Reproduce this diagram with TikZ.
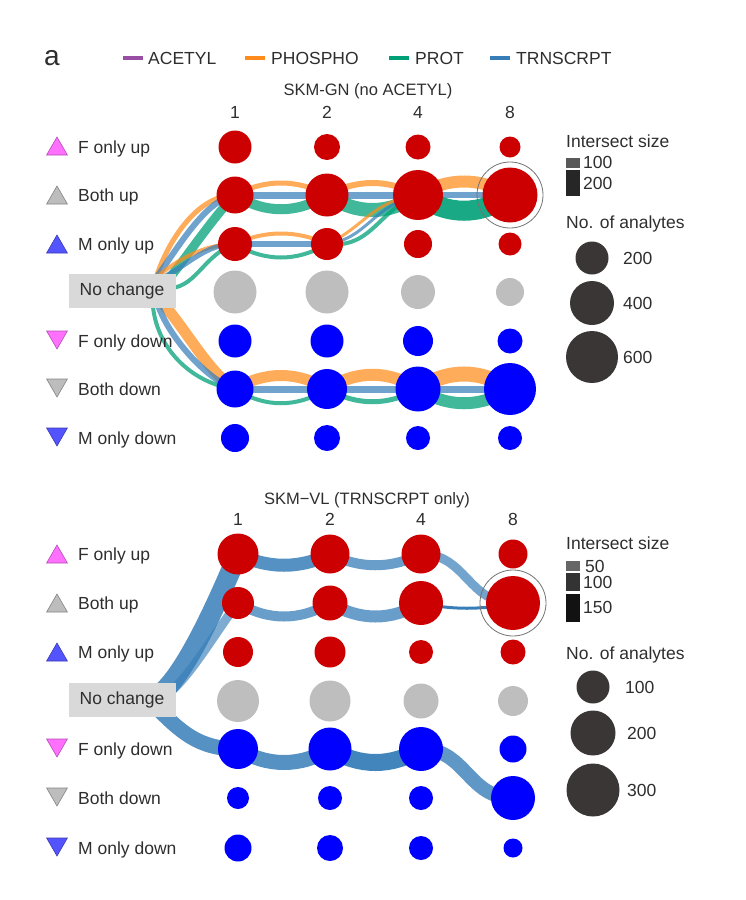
\documentclass[tikz,border=0pt]{standalone}
\usepackage{fontspec}
\setmainfont{Liberation Sans}
\usetikzlibrary{shapes.geometric,backgrounds,calc}

\definecolor{dotred}{HTML}{CC0000}
\definecolor{dotblue}{HTML}{0000FF}
\definecolor{dotgrey}{HTML}{BEBEBE}
\definecolor{acetcol}{HTML}{984EA3}
\definecolor{phoscol}{HTML}{FF8C1A}
\definecolor{protcol}{HTML}{00A077}
\definecolor{trncol}{HTML}{377EB8}
\definecolor{txt}{HTML}{2E2E2E}
\definecolor{fmark}{HTML}{FF70FF}
\definecolor{bmark}{HTML}{BDBDBD}
\definecolor{mmark}{HTML}{5454FF}
\definecolor{legdot}{HTML}{3B3636}

\newcommand{\lbl}{\fontsize{17.5}{20}\selectfont}

\tikzset{
  reddot/.style={circle, inner sep=0pt, fill=dotred, minimum size=#1pt},
  bluedot/.style={circle, inner sep=0pt, fill=dotblue, minimum size=#1pt},
  greydot/.style={circle, inner sep=0pt, fill=dotgrey, minimum size=#1pt},
  keydot/.style={circle, inner sep=0pt, fill=legdot, minimum size=#1pt},
  ring/.style={circle, inner sep=0pt, draw=black!55, line width=0.8pt, minimum size=66pt},
  lab/.style={anchor=west, inner sep=0pt, text=txt, font=\lbl, text height=12.5pt, text depth=0pt},
  head/.style={inner sep=0pt, text=txt, font=\lbl, text height=12.5pt, text depth=0pt},
  upmark/.style={regular polygon, regular polygon sides=3, inner sep=0pt, minimum size=24pt,
    fill=#1, draw=#1!70!black, line width=0.6pt},
  downmark/.style={upmark=#1, shape border rotate=180},
  nobox/.style={fill=black!15, text=txt, font=\lbl, minimum width=107pt, minimum height=34pt, inner sep=0pt},
  legline/.style={line width=4pt},
  phosflow/.style={draw=phoscol, opacity=.72, line width=#1pt},
  protflow/.style={draw=protcol, opacity=.75, line width=#1pt},
  trnflow/.style={draw=trncol, opacity=.72, line width=#1pt},
  vflow/.style={draw=trncol, opacity=.85, line width=#1pt},
}

\begin{document}
\begin{tikzpicture}[x=1pt,y=1pt]
  \useasboundingbox (0,0) rectangle (746,-900);

  % top key
  \node[anchor=base west, inner sep=0pt, text=txt, font=\fontsize{28}{30}\selectfont] (tag) at (44,-65) {a};
  \node[lab] (lacet) at (148,-58) {ACETYL};
  \node[lab] (lphos) at (271,-58) {PHOSPHO};
  \node[lab] (lprot) at (415,-58) {PROT};
  \node[lab] (ltrn) at (516,-58) {TRNSCRPT};
  \draw[legline, acetcol] ([xshift=-25pt]lacet.west) -- ([xshift=-5pt]lacet.west);
  \draw[legline, phoscol] ([xshift=-26pt]lphos.west) -- ([xshift=-6pt]lphos.west);
  \draw[legline, protcol] ([xshift=-26pt]lprot.west) -- ([xshift=-6pt]lprot.west);
  \draw[legline, trncol] ([xshift=-26pt]ltrn.west) -- ([xshift=-6pt]ltrn.west);

  % SKM-GN panel
  \node[head, font=\fontsize{16.5}{19}\selectfont] (gtitle) at (368,-89) {SKM-GN (no ACETYL)};
  \node[head] (gc1) at (235,-112) {1};
  \node[head] (gc2) at (327,-112) {2};
  \node[head] (gc4) at (418,-112) {4};
  \node[head] (gc8) at (510,-112) {8};

  \node[upmark=fmark] (gtfu) at (57,-149) {};
  \node[upmark=bmark] (gtbu) at (57,-198) {};
  \node[upmark=mmark] (gtmu) at (57,-247) {};
  \node[downmark=fmark] (gtfd) at (57,-337) {};
  \node[downmark=bmark] (gtbd) at (57,-385) {};
  \node[downmark=mmark] (gtmd) at (57,-434) {};
  \node[lab] (glfu) at (78,-147) {F only up};
  \node[lab] (glbu) at (78,-195) {Both up};
  \node[lab] (glmu) at (78,-244) {M only up};
  \node[lab] (glfd) at (78,-341) {F only down};
  \node[lab] (glbd) at (78,-389) {Both down};
  \node[lab] (glmd) at (78,-438) {M only down};

  \node[reddot=33] (gfu1) at (235,-147) {};
  \node[reddot=26] (gfu2) at (327,-147) {};
  \node[reddot=25] (gfu4) at (418,-147) {};
  \node[reddot=21] (gfu8) at (510,-147) {};
  \node[reddot=37] (gbu1) at (235,-195) {};
  \node[reddot=43] (gbu2) at (327,-195) {};
  \node[reddot=50] (gbu4) at (418,-195) {};
  \node[reddot=55] (gbu8) at (510,-195) {};
  \node[ring] (gring) at (gbu8) {};
  \node[reddot=34] (gmu1) at (235,-244) {};
  \node[reddot=32] (gmu2) at (327,-244) {};
  \node[reddot=28] (gmu4) at (418,-244) {};
  \node[reddot=23] (gmu8) at (510,-244) {};
  \node[greydot=43] (gnc1) at (235,-292) {};
  \node[greydot=43] (gnc2) at (327,-292) {};
  \node[greydot=34] (gnc4) at (418,-292) {};
  \node[greydot=28] (gnc8) at (510,-292) {};
  \node[bluedot=33] (gfd1) at (235,-341) {};
  \node[bluedot=33] (gfd2) at (327,-341) {};
  \node[bluedot=30] (gfd4) at (418,-341) {};
  \node[bluedot=25] (gfd8) at (510,-341) {};
  \node[bluedot=37] (gbd1) at (235,-389) {};
  \node[bluedot=40] (gbd2) at (327,-389) {};
  \node[bluedot=45] (gbd4) at (418,-389) {};
  \node[bluedot=52] (gbd8) at (510,-389) {};
  \node[bluedot=28] (gmd1) at (235,-438) {};
  \node[bluedot=26] (gmd2) at (327,-438) {};
  \node[bluedot=24] (gmd4) at (418,-438) {};
  \node[bluedot=24] (gmd8) at (510,-438) {};

  \node[nobox] (gnobox) at (122,-291) {No change};
  \coordinate (gsu) at (156,-278);
  \coordinate (gsd) at (158,-305);

  \begin{scope}[on background layer]
    % from no change
    \draw[phosflow=5] (gsu) .. controls +(10,32) and +(-40,0) .. (gbu1.center);
    \draw[trnflow=6] (gsu) .. controls +(22,30) and +(-30,-5) .. (gbu1.center);
    \draw[protflow=9] ($(gsu)+(12,-2)$) .. controls +(20,25) and +(-20,-20) .. (gbu1.center);
    \draw[phosflow=4] (gsu) .. controls +(20,18) and +(-30,0) .. (gmu1.center);
    \draw[trnflow=5] ($(gsu)+(6,0)$) .. controls +(25,12) and +(-30,0) .. (gmu1.center);
    \draw[protflow=4] ($(gsu)+(16,-10)$) .. controls +(25,3) and +(-30,-10) .. (gmu1.center);
    \draw[phosflow=11] ($(gsd)+(6,0)$) .. controls +(20,-22) and +(-25,15) .. (gbd1.center);
    \draw[trnflow=6] (gsd) .. controls +(10,-30) and +(-30,10) .. (gbd1.center);
    \draw[protflow=4] ($(gsd)+(-5,-2)$) .. controls +(5,-45) and +(-40,5) .. (gbd1.center);
    % both up
    \draw[phosflow=5] (gbu1.center) .. controls +(30,16) and +(-30,16) .. (gbu2.center);
    \draw[trnflow=7] (gbu1.center) -- (gbu2.center);
    \draw[protflow=10] (gbu1.center) .. controls +(30,-19) and +(-30,-19) .. (gbu2.center);
    \draw[phosflow=6] (gbu2.center) .. controls +(30,16) and +(-30,16) .. (gbu4.center);
    \draw[trnflow=7] (gbu2.center) -- (gbu4.center);
    \draw[protflow=14] (gbu2.center) .. controls +(30,-20) and +(-30,-20) .. (gbu4.center);
    \draw[phosflow=12] (gbu4.center) .. controls +(30,18) and +(-30,18) .. (gbu8.center);
    \draw[trnflow=6] (gbu4.center) -- (gbu8.center);
    \draw[protflow=20, opacity=.9] (gbu4.center) .. controls +(30,-21) and +(-30,-21) .. (gbu8.center);
    % m only up
    \draw[phosflow=4] (gmu1.center) .. controls +(30,14) and +(-30,14) .. (gmu2.center);
    \draw[trnflow=6] (gmu1.center) -- (gmu2.center);
    \draw[protflow=4] (gmu1.center) .. controls +(30,-18) and +(-30,-18) .. (gmu2.center);
    \draw[phosflow=3] (gmu2.center) .. controls +(35,15) and +(-45,-5) .. (gbu4.center);
    \draw[trnflow=3] (gmu2.center) .. controls +(40,5) and +(-45,-10) .. (gbu4.center);
    \draw[protflow=4] (gmu2.center) .. controls +(45,-5) and +(-40,-15) .. (gbu4.center);
    % both down
    \draw[phosflow=11] (gbd1.center) .. controls +(30,18) and +(-30,18) .. (gbd2.center);
    \draw[trnflow=7] (gbd1.center) -- (gbd2.center);
    \draw[protflow=4] (gbd1.center) .. controls +(30,-19) and +(-30,-19) .. (gbd2.center);
    \draw[phosflow=12] (gbd2.center) .. controls +(30,19) and +(-30,19) .. (gbd4.center);
    \draw[trnflow=7] (gbd2.center) -- (gbd4.center);
    \draw[protflow=5] (gbd2.center) .. controls +(30,-17) and +(-30,-17) .. (gbd4.center);
    \draw[phosflow=15] (gbd4.center) .. controls +(30,20) and +(-30,20) .. (gbd8.center);
    \draw[trnflow=7] (gbd4.center) -- (gbd8.center);
    \draw[protflow=12] (gbd4.center) .. controls +(30,-19) and +(-30,-19) .. (gbd8.center);
  \end{scope}

  % SKM-GN key
  \node[lab] (gkint) at (566,-141) {Intersect size};
  \fill[black!65] (566,-158) rectangle (580,-168);
  \fill[black!85] (566,-170) rectangle (580,-196);
  \node[lab] (gk100) at (583,-162) {100};
  \node[lab] (gk200) at (583,-183) {200};
  \node[lab] (gkno) at (566,-222) {No. of analytes};
  \node[keydot=33] (gkd200) at (592,-258) {};
  \node[keydot=44] (gkd400) at (592,-303) {};
  \node[keydot=52] (gkd600) at (592,-357) {};
  \node[lab] (gkl200) at (623,-258) {200};
  \node[lab] (gkl400) at (623,-303) {400};
  \node[lab] (gkl600) at (623,-357) {600};

  % SKM-VL panel
  \node[head, font=\fontsize{16.5}{19}\selectfont] (vtitle) at (367,-498) {SKM−VL (TRNSCRPT only)};
  \node[head] (vc1) at (238,-519) {1};
  \node[head] (vc2) at (330,-519) {2};
  \node[head] (vc4) at (421,-519) {4};
  \node[head] (vc8) at (513,-519) {8};

  \node[upmark=fmark] (vtfu) at (57,-557) {};
  \node[upmark=bmark] (vtbu) at (57,-606) {};
  \node[upmark=mmark] (vtmu) at (57,-655) {};
  \node[downmark=fmark] (vtfd) at (57,-745) {};
  \node[downmark=bmark] (vtbd) at (57,-794) {};
  \node[downmark=mmark] (vtmd) at (57,-844) {};
  \node[lab] (vlfu) at (78,-554) {F only up};
  \node[lab] (vlbu) at (78,-603) {Both up};
  \node[lab] (vlmu) at (78,-652) {M only up};
  \node[lab] (vlfd) at (78,-749) {F only down};
  \node[lab] (vlbd) at (78,-798) {Both down};
  \node[lab] (vlmd) at (78,-848) {M only down};

  \node[reddot=41] (vfu1) at (238,-554) {};
  \node[reddot=39] (vfu2) at (330,-554) {};
  \node[reddot=39] (vfu4) at (421,-554) {};
  \node[reddot=29] (vfu8) at (513,-554) {};
  \node[reddot=32] (vbu1) at (238,-603) {};
  \node[reddot=35] (vbu2) at (330,-603) {};
  \node[reddot=44] (vbu4) at (421,-603) {};
  \node[reddot=54] (vbu8) at (513,-603) {};
  \node[ring] (vring) at (vbu8) {};
  \node[reddot=30] (vmu1) at (238,-652) {};
  \node[reddot=31] (vmu2) at (330,-652) {};
  \node[reddot=24] (vmu4) at (421,-652) {};
  \node[reddot=25] (vmu8) at (513,-652) {};
  \node[greydot=42] (vnc1) at (238,-701) {};
  \node[greydot=41] (vnc2) at (330,-701) {};
  \node[greydot=35] (vnc4) at (421,-701) {};
  \node[greydot=30] (vnc8) at (513,-701) {};
  \node[bluedot=40] (vfd1) at (238,-749) {};
  \node[bluedot=43] (vfd2) at (330,-749) {};
  \node[bluedot=44] (vfd4) at (421,-749) {};
  \node[bluedot=27] (vfd8) at (513,-749) {};
  \node[bluedot=22] (vbd1) at (238,-798) {};
  \node[bluedot=24] (vbd2) at (330,-798) {};
  \node[bluedot=24] (vbd4) at (421,-798) {};
  \node[bluedot=44] (vbd8) at (513,-798) {};
  \node[bluedot=27] (vmd1) at (238,-848) {};
  \node[bluedot=26] (vmd2) at (330,-848) {};
  \node[bluedot=24] (vmd4) at (421,-848) {};
  \node[bluedot=19] (vmd8) at (513,-848) {};

  \node[nobox] (vnobox) at (122,-700) {No change};
  \coordinate (vsu) at (160,-694);
  \coordinate (vsu2) at (170,-692);
  \coordinate (vsd) at (155,-706);

  \begin{scope}[on background layer]
    \draw[vflow=20] (vsu) .. controls +(28,22) and +(-15,-35) .. (vfu1.center);
    \draw[vflow=9, opacity=.65] (vsu2) .. controls +(22,18) and +(-18,-22) .. (vbu1.center);
    \draw[vflow=15] (vsd) .. controls +(25,-25) and +(-40,0) .. (vfd1.center);
    % f only up
    \draw[vflow=13] (vfu1.center) .. controls +(30,-15) and +(-30,-15) .. (vfu2.center);
    \draw[vflow=10, opacity=.75] (vfu2.center) .. controls +(30,-15) and +(-30,-15) .. (vfu4.center);
    \draw[vflow=9, opacity=.7] (vfu4.center) .. controls +(45,0) and +(-45,0) .. (vbu8.center);
    % both up
    \draw[vflow=10, opacity=.75] (vbu1.center) .. controls +(30,-18) and +(-30,-18) .. (vbu2.center);
    \draw[vflow=12, opacity=.75] (vbu2.center) .. controls +(30,-18) and +(-30,-18) .. (vbu4.center);
    \draw[vflow=3, opacity=1] (vbu4.center) .. controls +(30,-7) and +(-30,-7) .. (vbu8.center);
    % f only down
    \draw[vflow=15] (vfd1.center) .. controls +(30,-18) and +(-30,-18) .. (vfd2.center);
    \draw[vflow=17, opacity=.95] (vfd2.center) .. controls +(30,-18) and +(-30,-18) .. (vfd4.center);
    \draw[vflow=14, opacity=.8] (vfd4.center) .. controls +(45,0) and +(-45,0) .. (vbd8.center);
  \end{scope}

  % SKM-VL key
  \node[lab] (vkint) at (566,-543) {Intersect size};
  \fill[black!60] (566,-561) rectangle (580,-571);
  \fill[black!80] (566,-573) rectangle (580,-591);
  \fill[black!93] (566,-594) rectangle (580,-622);
  \node[lab] (vk50) at (585,-566) {50};
  \node[lab] (vk100) at (583,-582) {100};
  \node[lab] (vk150) at (583,-607) {150};
  \node[lab] (vkno) at (566,-653) {No. of analytes};
  \node[keydot=33] (vkd100) at (593,-687) {};
  \node[keydot=45] (vkd200) at (593,-733) {};
  \node[keydot=53] (vkd300) at (593,-790) {};
  \node[lab] (vkl100) at (625,-687) {100};
  \node[lab] (vkl200) at (627,-733) {200};
  \node[lab] (vkl300) at (627,-790) {300};
\end{tikzpicture}
\end{document}
